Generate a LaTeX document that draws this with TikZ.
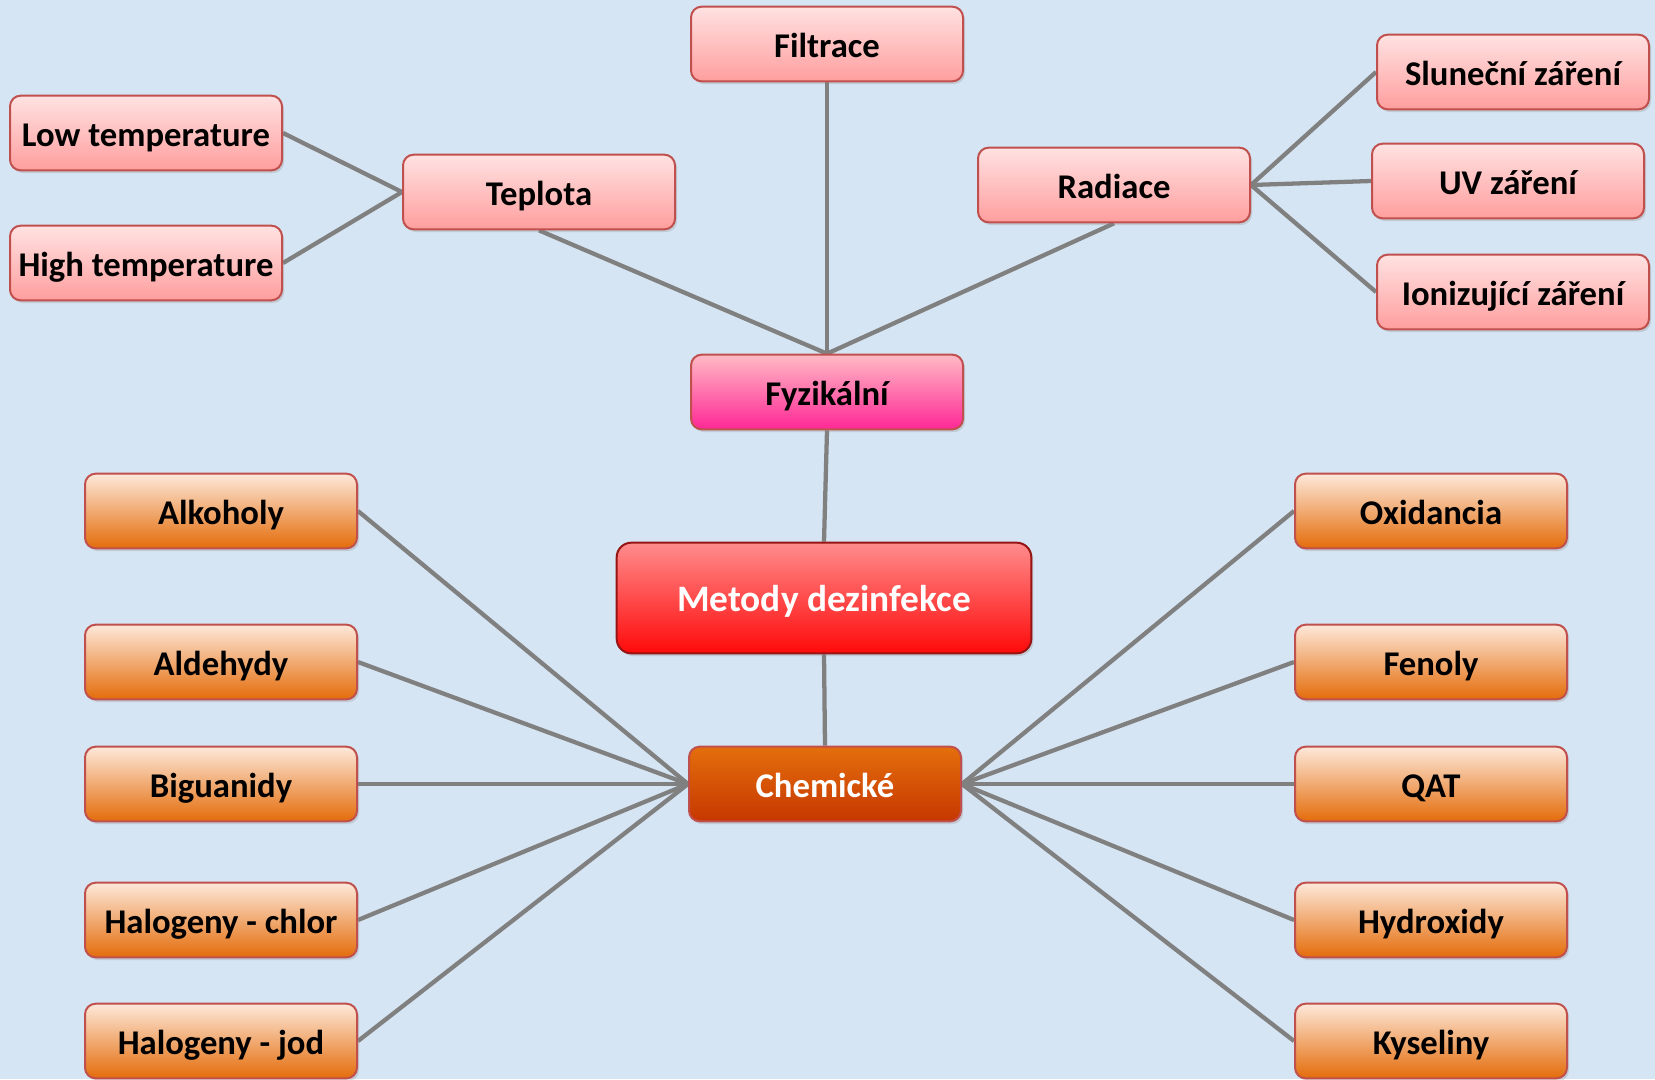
\documentclass[tikz,border=0pt]{standalone}
\usepackage{fontspec}
\setmainfont{Carlito}
\usetikzlibrary{shadows}

\definecolor{bgblue}{RGB}{214,229,243}
\definecolor{linegray}{RGB}{128,128,128}
\definecolor{boxedge}{RGB}{192,80,77}
\definecolor{pinktop}{RGB}{255,226,226}
\definecolor{pinkbot}{RGB}{255,158,158}
\definecolor{magtop}{RGB}{255,186,196}
\definecolor{magbot}{RGB}{255,40,150}
\definecolor{redtop}{RGB}{255,140,140}
\definecolor{redbot}{RGB}{255,10,10}
\definecolor{rededge}{RGB}{150,20,20}
\definecolor{chemtop}{RGB}{228,110,12}
\definecolor{chembot}{RGB}{198,55,0}
\definecolor{orgtop}{RGB}{253,232,218}
\definecolor{orgbot}{RGB}{228,108,10}

\pgfdeclarelayer{bg}
\pgfdeclarelayer{wires}
\pgfsetlayers{bg,wires,main}

\tikzset{every picture/.style={line width=0.75pt}}
\tikzset{
  box/.style={draw=boxedge, line width=1.5pt, rounded corners=8pt,
    minimum width=204pt, minimum height=56pt, inner sep=0pt,
    text height=20pt, text depth=0.5pt,
    font=\fontsize{26}{30}\selectfont\bfseries,
    drop shadow={opacity=0.25, shadow xshift=1.5pt, shadow yshift=-2pt}},
  pinkbox/.style={box, top color=pinktop, bottom color=pinkbot},
  magbox/.style={box, top color=magtop, bottom color=magbot},
  orgbox/.style={box, top color=orgtop, bottom color=orgbot},
  chembox/.style={box, top color=chemtop, bottom color=chembot, text=white},
  rootbox/.style={box, draw=rededge, top color=redtop, bottom color=redbot, text=white,
    minimum width=311pt, minimum height=83pt, rounded corners=11pt,
    font=\fontsize{28}{32}\selectfont\bfseries},
  wire/.style={draw=linegray, line width=3.2pt}
}

\begin{document}
\begin{tikzpicture}[x=0.75pt,y=0.75pt,yscale=-1,xscale=1]

\begin{pgfonlayer}{bg}
\fill [bgblue] (0,0) rectangle (1655,1079) ;
\end{pgfonlayer}
\useasboundingbox (0,0) rectangle (1655,1079) ;

% centre
\node [rootbox] (metody) at (824,598) {Metody dezinfekce};
\node [magbox] (fyz) at (827,392) {Fyzikální};
\node [chembox] (chem) at (825,784) {Chemické};

% fyzikální
\node [pinkbox] (filtrace) at (827,44) {Filtrace};
\node [pinkbox] (teplota) at (539,192) {Teplota};
\node [pinkbox] (radiace) at (1114,185) {Radiace};
\node [pinkbox] (lowt) at (146,133) {Low temperature};
\node [pinkbox] (hight) at (146,263) {High temperature};
\node [pinkbox] (slun) at (1513,72) {Sluneční záření};
\node [pinkbox] (uv) at (1508,181) {UV záření};
\node [pinkbox] (ioni) at (1513,292) {Ionizující záření};

% chemické
\node [orgbox] (alk) at (221,511) {Alkoholy};
\node [orgbox] (ald) at (221,662) {Aldehydy};
\node [orgbox] (big) at (221,784) {Biguanidy};
\node [orgbox] (chlor) at (221,920) {Halogeny - chlor};
\node [orgbox] (jod) at (221,1041) {Halogeny - jod};
\node [orgbox] (oxi) at (1431,511) {Oxidancia};
\node [orgbox] (fen) at (1431,662) {Fenoly};
\node [orgbox] (qat) at (1431,784) {QAT};
\node [orgbox] (hydr) at (1431,920) {Hydroxidy};
\node [orgbox] (kys) at (1431,1041) {Kyseliny};

\begin{pgfonlayer}{wires}
\draw [wire] (metody.north) -- (fyz.south) ;
\draw [wire] (metody.south) -- (chem.north) ;
\draw [wire] (filtrace.south) -- (fyz.north) ;
\draw [wire] (teplota.south) -- (fyz.north) ;
\draw [wire] (radiace.south) -- (fyz.north) ;
\draw [wire] (lowt.east) -- (teplota.west) ;
\draw [wire] (hight.east) -- (teplota.west) ;
\draw [wire] (radiace.east) -- (slun.west) ;
\draw [wire] (radiace.east) -- (uv.west) ;
\draw [wire] (radiace.east) -- (ioni.west) ;
\foreach \n in {alk,ald,big,chlor,jod}
  \draw [wire] (\n.east) -- (chem.west) ;
\foreach \n in {oxi,fen,qat,hydr,kys}
  \draw [wire] (\n.west) -- (chem.east) ;
\end{pgfonlayer}

\end{tikzpicture}
\end{document}
